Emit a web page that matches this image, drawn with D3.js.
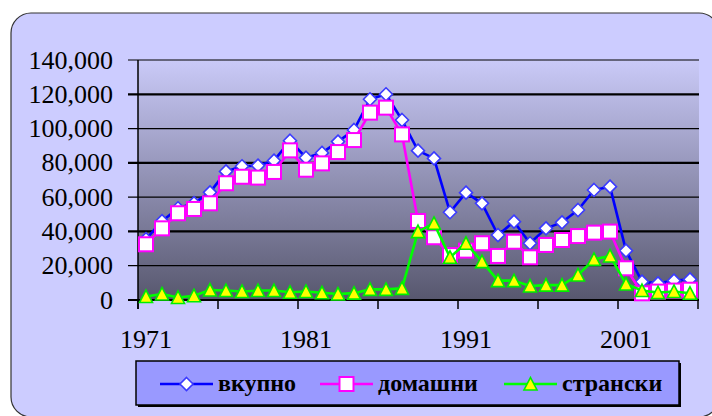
<!DOCTYPE html>
<html>
<head>
<meta charset="utf-8">
<script src="https://cdn.jsdelivr.net/npm/d3@7"></script>
<style>
  html, body { margin: 0; padding: 0; background: #ffffff; }
  svg { display: block; }
  text { font-family: "Liberation Serif", "Times New Roman", serif; fill: #000; }
</style>
</head>
<body>
<svg id="chart" width="712" height="416"></svg>
<script>
// categories
var years = [1971, 1972, 1973, 1974, 1975, 1976, 1977, 1978, 1979, 1980,
             1981, 1982, 1983, 1984, 1985, 1986, 1987, 1988, 1989, 1990,
             1991, 1992, 1993, 1994, 1995, 1996, 1997, 1998, 1999, 2000,
             2001, 2002, 2003, 2004, 2005];
var xLabels = [1971, 1981, 1991, 2001];
var yTicks = [0, 20000, 40000, 60000, 80000, 100000, 120000, 140000];

// series
var vkupno = [35500, 46000, 53500, 56500, 62800, 75000, 78000, 78400, 81300, 92900,
              83000, 85800, 92400, 99200, 117100, 120000, 105000, 87100, 82600, 51200,
              62600, 56400, 37900, 45700, 33100, 41800, 45300, 52500, 64200, 66100,
              28800, 10700, 9700, 11300, 12000];
var domashni = [32500, 41800, 50600, 53100, 56400, 68100, 71900, 71400, 74700, 87300,
                76000, 79700, 86300, 93300, 109300, 112200, 96600, 46100, 36600, 26200,
                28800, 33100, 25700, 34000, 24900, 32100, 35000, 37300, 39300, 39900,
                18500, 3900, 4900, 5500, 6000];
var stranski = [2000, 3500, 1500, 2500, 5800, 5500, 5000, 5500, 5500, 4500,
                5000, 4200, 3500, 4000, 6200, 6200, 6800, 39900, 44700, 24900,
                33100, 22400, 11300, 11300, 8200, 8700, 8700, 14600, 23700, 25700,
                9300, 5500, 4300, 5000, 3900];
var seriesNames = ["вкупно", "домашни", "странски"];

var svg = d3.select("#chart");
var plot = {left: 138, right: 698, top: 60, bottom: 300};

var x = d3.scaleBand().domain(years).range([plot.left, plot.right]).padding(0);
var y = d3.scaleLinear().domain([0, 140000]).range([plot.bottom, plot.top]);
var cx = function(d) { return x(d) + x.bandwidth() / 2; };

// outer chart area
svg.append("rect")
  .attr("x", 11).attr("y", 13)
  .attr("width", 708).attr("height", 404)
  .attr("rx", 20).attr("ry", 20)
  .attr("fill", "#ccccff")
  .attr("stroke", "#333")
  .attr("stroke-width", 1.2);

// plot background gradient
var defs = svg.append("defs");
var grad = defs.append("linearGradient")
  .attr("id", "plotGrad")
  .attr("x1", 0).attr("y1", 0).attr("x2", 0).attr("y2", 1);
grad.append("stop").attr("offset", "0%").attr("stop-color", "#cacaf8");
grad.append("stop").attr("offset", "100%").attr("stop-color", "#57576e");

svg.append("rect")
  .attr("x", plot.left).attr("y", plot.top)
  .attr("width", 699 - plot.left).attr("height", plot.bottom - plot.top)
  .attr("fill", "url(#plotGrad)");

// gridlines
svg.append("g").selectAll("line")
  .data(yTicks)
  .enter().append("line")
  .attr("x1", plot.left - 10).attr("x2", 699)
  .attr("y1", function(d) { return y(d); })
  .attr("y2", function(d) { return y(d); })
  .attr("stroke", "#000")
  .attr("stroke-width", function(d, i) { return i % 2 === 0 ? 2.2 : 1.2; });

// y axis labels
svg.append("g").selectAll("text")
  .data(yTicks)
  .enter().append("text")
  .attr("x", 113)
  .attr("y", function(d) { return y(d); })
  .attr("dy", "0.33em")
  .attr("text-anchor", "end")
  .style("font-size", "26px")
  .text(function(d) { return d3.format(",")(d); });

// y axis line
svg.append("line")
  .attr("x1", plot.left).attr("x2", plot.left)
  .attr("y1", plot.top).attr("y2", plot.bottom + 9)
  .attr("stroke", "#000").attr("stroke-width", 1.5);

// x tick marks every 5 categories
var xTickPos = years.filter(function(d, i) { return i % 5 === 0; })
  .map(function(d) { return x(d); })
  .concat([plot.right]);
svg.append("g").selectAll("line")
  .data(xTickPos)
  .enter().append("line")
  .attr("x1", function(d) { return d; })
  .attr("x2", function(d) { return d; })
  .attr("y1", plot.bottom).attr("y2", plot.bottom + 9)
  .attr("stroke", "#000").attr("stroke-width", 1.5);

// x labels
svg.append("g").selectAll("text")
  .data(xLabels)
  .enter().append("text")
  .attr("x", function(d) { return cx(d); })
  .attr("y", 348)
  .attr("text-anchor", "middle")
  .style("font-size", "26px")
  .text(function(d) { return d; });

// markers
function diamond(g) {
  g.append("path")
    .attr("d", "M0,-6.5L6.5,0L0,6.5L-6.5,0Z")
    .attr("fill", "#fff").attr("stroke", "#3a3aff").attr("stroke-width", 1.6);
}
function square(g) {
  g.append("rect")
    .attr("x", -7).attr("y", -7).attr("width", 14).attr("height", 14)
    .attr("fill", "#fff").attr("stroke", "#ff00ff").attr("stroke-width", 2);
}
function triangle(g) {
  g.append("path")
    .attr("d", "M0,-6.5L6.5,6L-6.5,6Z")
    .attr("fill", "#ffff00").attr("stroke", "#00ee00").attr("stroke-width", 1.6);
}

var series = [
  {name: seriesNames[0], values: vkupno, color: "#0000ff", marker: diamond},
  {name: seriesNames[1], values: domashni, color: "#ff00ff", marker: square},
  {name: seriesNames[2], values: stranski, color: "#00ff00", marker: triangle}
];

var line = d3.line()
  .x(function(d, i) { return cx(years[i]); })
  .y(function(d) { return y(d); });

series.forEach(function(s) {
  var g = svg.append("g");
  g.append("path")
    .attr("d", line(s.values))
    .attr("fill", "none")
    .attr("stroke", s.color)
    .attr("stroke-width", 2.6)
    .attr("stroke-linejoin", "round");
  g.selectAll("g.pt")
    .data(s.values)
    .enter().append("g")
    .attr("class", "pt")
    .attr("transform", function(d, i) { return "translate(" + cx(years[i]) + "," + y(d) + ")"; })
    .each(function() { s.marker(d3.select(this)); });
});

// legend
var legend = svg.append("g");
legend.append("rect")
  .attr("x", 138).attr("y", 363).attr("width", 543).attr("height", 44)
  .attr("fill", "#000");
legend.append("rect")
  .attr("x", 136).attr("y", 361).attr("width", 543).attr("height", 44)
  .attr("fill", "#9999ff").attr("stroke", "#000").attr("stroke-width", 1.5);

var legendX = [160, 320, 504];
series.forEach(function(s, i) {
  var lg = legend.append("g").attr("transform", "translate(" + legendX[i] + ",384)");
  lg.append("line")
    .attr("x1", 0).attr("x2", 53)
    .attr("stroke", s.color).attr("stroke-width", 2.6);
  var m = lg.append("g").attr("transform", "translate(26.5,0)");
  s.marker(m);
  lg.append("text")
    .attr("x", 58).attr("y", 7)
    .style("font-size", "24px")
    .style("font-weight", "bold")
    .text(s.name);
});
</script>
</body>
</html>
